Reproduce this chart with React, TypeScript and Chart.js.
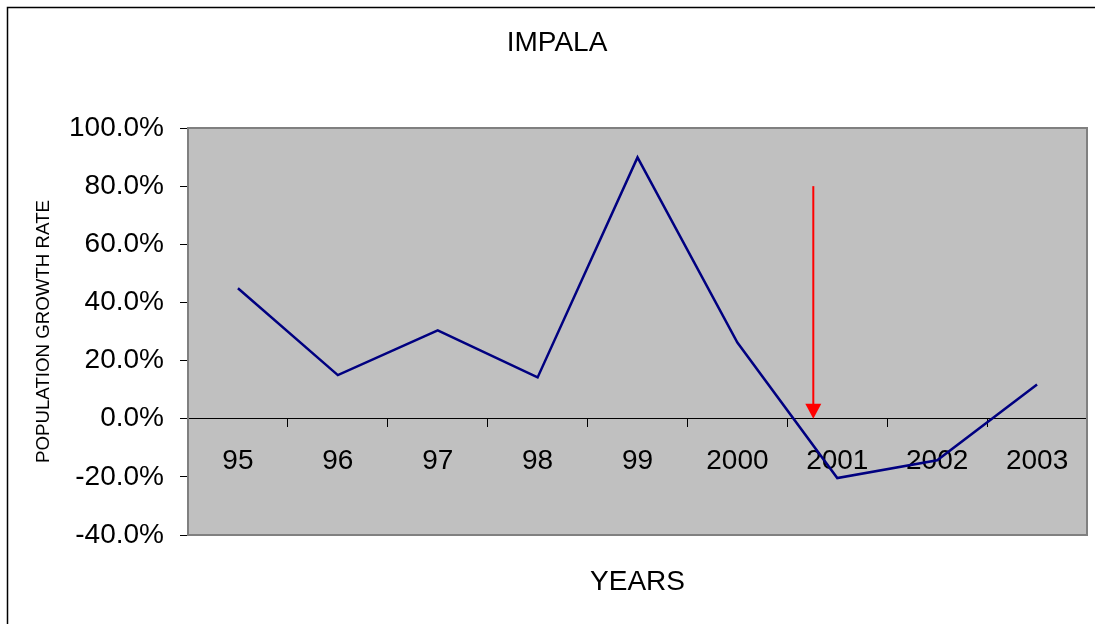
import React, { useEffect, useRef } from "react";
import { Chart, registerables } from "chart.js";

Chart.register(...registerables);

const YEAR_LABELS = ["95", "96", "97", "98", "99", "2000", "2001", "2002", "2003"];
const GROWTH_RATE = [44.9, 15.0, 30.4, 14.2, 89.9, 26.2, -20.4, -14.3, 11.8];
const Y_MIN = -40;
const Y_MAX = 100;
const Y_STEP = 20;
const ARROW_X = 5.76;
const ARROW_FROM = 80;
const ARROW_TO = 0;

const FONT = "'Liberation Sans', Arial, Helvetica, sans-serif";

const decorPlugin = {
  id: "decor",
  beforeDraw(chart: any) {
    const { ctx, chartArea } = chart;
    ctx.save();
    ctx.fillStyle = "#ffffff";
    ctx.fillRect(0, 0, 1095, 624);
    ctx.strokeStyle = "#000000";
    ctx.lineWidth = 1.5;
    ctx.beginPath();
    ctx.moveTo(7.5, 700);
    ctx.lineTo(7.5, 7.5);
    ctx.lineTo(1200, 7.5);
    ctx.stroke();
    ctx.fillStyle = "#c0c0c0";
    ctx.fillRect(chartArea.left, chartArea.top, chartArea.right - chartArea.left, chartArea.bottom - chartArea.top);
    ctx.restore();
  },
  beforeDatasetsDraw(chart: any) {
    const { ctx, chartArea } = chart;
    ctx.save();
    ctx.strokeStyle = "#808080";
    ctx.lineWidth = 2;
    ctx.strokeRect(chartArea.left, chartArea.top, chartArea.right - chartArea.left, chartArea.bottom - chartArea.top);
    ctx.restore();
  },
  afterDatasetsDraw(chart: any) {
    const { ctx } = chart;
    const xs = chart.scales.x;
    const ys = chart.scales.y;
    const x = xs.getPixelForValue(ARROW_X);
    const y0 = ys.getPixelForValue(ARROW_FROM);
    const y1 = ys.getPixelForValue(ARROW_TO);
    ctx.save();
    ctx.strokeStyle = "#ff0000";
    ctx.fillStyle = "#ff0000";
    ctx.lineWidth = 2;
    ctx.beginPath();
    ctx.moveTo(x, y0);
    ctx.lineTo(x, y1 - 12);
    ctx.stroke();
    ctx.beginPath();
    ctx.moveTo(x - 8, y1 - 15);
    ctx.lineTo(x + 8, y1 - 15);
    ctx.lineTo(x, y1);
    ctx.closePath();
    ctx.fill();
    ctx.restore();
  },
};

export default function App() {
  const canvasRef = useRef<HTMLCanvasElement | null>(null);

  useEffect(() => {
    if (!canvasRef.current) return;
    Chart.defaults.font.family = FONT;
    const chart = new Chart(canvasRef.current, {
      type: "line",
      data: {
        labels: YEAR_LABELS,
        datasets: [
          {
            label: "IMPALA",
            data: GROWTH_RATE,
            borderColor: "#000080",
            borderWidth: 2.5,
            pointRadius: 0,
            tension: 0,
            fill: false,
            xAxisID: "x",
            yAxisID: "y",
          },
        ],
      },
      options: {
        animation: false,
        responsive: false,
        devicePixelRatio: 1,
        layout: { padding: { top: 0, left: 27, right: 8, bottom: 0 } },
        plugins: {
          legend: { display: false },
          tooltip: { enabled: false },
          title: {
            display: true,
            text: "IMPALA",
            color: "#000",
            font: { size: 28, weight: "normal", family: FONT },
            padding: { top: 26, bottom: 68.4 },
          },
        },
        scales: {
          x: {
            type: "category",
            position: { y: 0 } as any,
            offset: true,
            grid: {
              offset: true,
              drawOnChartArea: false,
              drawTicks: true,
              tickLength: 8,
              color: "#000",
            },
            border: { display: true, color: "#000", width: 1 },
            ticks: {
              color: "#000",
              font: { size: 28, family: FONT },
              padding: 18,
              maxRotation: 0,
              autoSkip: false,
            },
            afterFit: (s: any) => {
              s.height = 0;
            },
          },
          x2: {
            type: "category",
            position: "bottom",
            grid: { display: false },
            border: { display: false },
            ticks: { display: false },
            title: {
              display: true,
              text: "YEARS",
              color: "#000",
              font: { size: 28, family: FONT },
              padding: { top: 0, bottom: 25 },
            },
            afterFit: (s: any) => {
              s.height = 89;
            },
          },
          y: {
            type: "linear",
            position: "left",
            min: Y_MIN,
            max: Y_MAX,
            grid: {
              drawOnChartArea: false,
              drawTicks: true,
              tickLength: 8,
              color: "#000",
            },
            border: { display: false },
            ticks: {
              stepSize: Y_STEP,
              color: "#000",
              font: { size: 28, family: FONT },
              padding: 16,
              callback: (v: any) => Number(v).toFixed(1) + "%",
            },
            title: {
              display: true,
              text: "POPULATION GROWTH RATE",
              color: "#000",
              font: { size: 18.7, family: FONT },
              padding: { top: 6, bottom: 0 },
            },
            afterFit: (s: any) => {
              s.width = 161;
            },
          },
        },
      },
      plugins: [decorPlugin],
    });
    return () => chart.destroy();
  }, []);

  return (
    <div style={{ position: "absolute", left: 0, top: 0, width: 1095, height: 624 }}>
      <canvas ref={canvasRef} width={1095} height={624} style={{ width: 1095, height: 624, display: "block" }} />
    </div>
  );
}
